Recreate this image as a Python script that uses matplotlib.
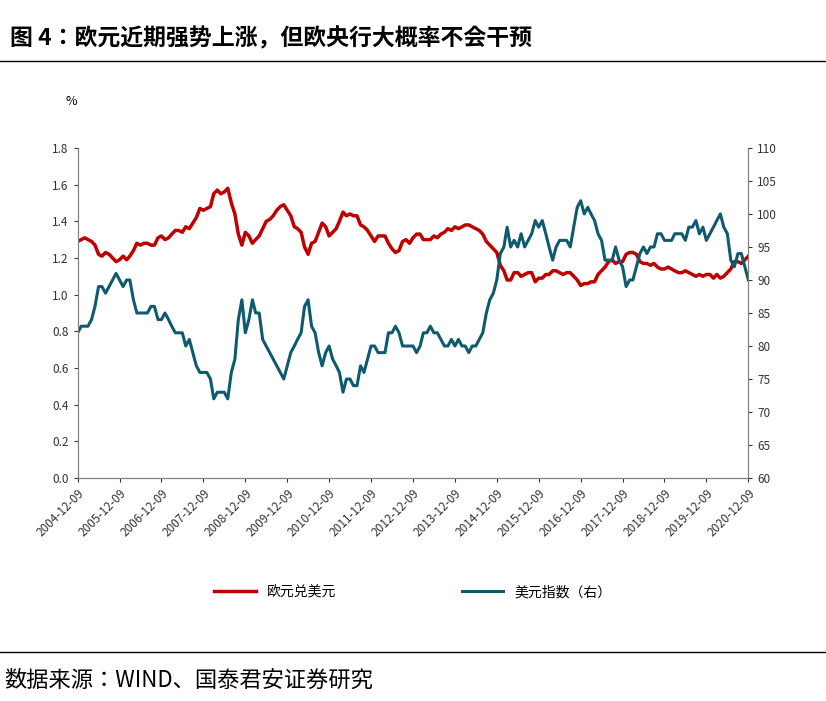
import matplotlib
matplotlib.use("Agg")
import matplotlib.pyplot as plt
from matplotlib import font_manager
import pandas as pd

eur = [1.29,
1.30,1.31,1.30,1.29,1.27,1.22,1.21,1.23,1.22,1.20,1.18,1.19,
1.21,1.19,1.21,1.24,1.28,1.27,1.28,1.28,1.27,1.27,1.31,1.32,
1.30,1.31,1.33,1.35,1.35,1.34,1.37,1.36,1.39,1.42,1.47,1.46,
1.47,1.48,1.55,1.57,1.55,1.56,1.58,1.50,1.44,1.33,1.27,1.34,
1.32,1.28,1.30,1.32,1.36,1.40,1.41,1.43,1.46,1.48,1.49,1.46,
1.43,1.37,1.36,1.34,1.26,1.22,1.28,1.29,1.34,1.39,1.37,1.32,
1.34,1.36,1.40,1.45,1.43,1.44,1.43,1.43,1.38,1.37,1.35,1.32,
1.29,1.32,1.32,1.32,1.28,1.25,1.23,1.24,1.29,1.30,1.28,1.31,
1.33,1.33,1.30,1.30,1.30,1.32,1.31,1.33,1.34,1.36,1.35,1.37,
1.36,1.37,1.38,1.38,1.37,1.36,1.35,1.33,1.29,1.27,1.25,1.23,
1.16,1.13,1.08,1.08,1.12,1.12,1.10,1.11,1.12,1.12,1.07,1.09,
1.09,1.11,1.11,1.13,1.13,1.12,1.11,1.12,1.12,1.10,1.08,1.05,
1.06,1.06,1.07,1.07,1.11,1.13,1.15,1.18,1.19,1.17,1.18,1.18,
1.22,1.23,1.23,1.22,1.18,1.17,1.17,1.16,1.17,1.15,1.14,1.14,
1.15,1.14,1.13,1.12,1.12,1.13,1.12,1.11,1.10,1.11,1.10,1.11,
1.11,1.09,1.11,1.09,1.10,1.12,1.14,1.18,1.18,1.17,1.19,1.21]

dxy = [82,
83,83,83,84,86,89,89,88,89,90,91,90,
89,90,90,87,85,85,85,85,86,86,84,84,
85,84,83,82,82,82,80,81,79,77,76,76,
76,75,72,73,73,73,72,76,78,84,87,82,
84,87,85,85,81,80,79,78,77,76,75,77,
79,80,81,82,86,87,83,82,79,77,79,80,
78,77,76,73,75,75,74,74,77,76,78,80,
80,79,79,79,82,82,83,82,80,80,80,80,
79,80,82,82,83,82,82,81,80,80,81,80,
81,80,80,79,80,80,81,82,85,87,88,90,
94,95,98,95,96,95,97,95,96,97,99,98,
99,97,95,93,95,96,96,96,95,98,101,102,
100,101,100,99,97,96,93,93,93,95,93,92,
89,90,90,92,94,95,94,95,95,97,97,96,
96,96,97,97,97,96,98,98,99,97,98,96,
97,98,99,100,98,97,93,92,94,94,92,90]

dates = pd.date_range("2004-12-09", periods=len(eur), freq=pd.DateOffset(months=1))
tick_dates = pd.date_range("2004-12-09", periods=17, freq=pd.DateOffset(years=1))
tick_labels = [d.strftime("%Y-%m-%d") for d in tick_dates]

available = {f.name for f in font_manager.fontManager.ttflist}
cands = ["Noto Sans CJK SC", "Noto Sans CJK JP", "Noto Sans CJK TC", "Noto Sans CJK KR",
         "Noto Sans SC", "Noto Serif CJK SC", "WenQuanYi Zen Hei"]
cjk_name = next((c for c in cands if c in available), None)
if cjk_name is None:
    for f in font_manager.fontManager.ttflist:
        if "CJK" in f.name or "CJK" in f.fname:
            cjk_name = f.name
            break
cjk = [cjk_name, "DejaVu Sans"] if cjk_name else ["DejaVu Sans"]
plt.rcParams["font.family"] = cjk

red = "#C00000"
teal = "#0E5A6E"

fig = plt.figure(figsize=(8.26, 7.01), dpi=100)
fig.text(0.012, 0.945, "图 4：欧元近期强势上涨，但欧央行大概率不会干预",
         fontsize=16.5, fontweight="bold", va="center")
fig.add_artist(plt.Line2D([0, 1], [0.913, 0.913], color="black", lw=1))
fig.add_artist(plt.Line2D([0, 1], [0.07, 0.07], color="black", lw=1))
fig.text(0.005, 0.03, "数据来源：WIND、国泰君安证券研究", fontsize=16, va="center")

ax = fig.add_axes([0.094, 0.318, 0.812, 0.471])
ax2 = ax.twinx()
l1, = ax.plot(dates, eur, color=red, lw=2.5)
l2, = ax2.plot(dates, dxy, color=teal, lw=2.2)
ax.set_ylim(0, 1.8)
ax.set_yticks([i * 0.2 for i in range(10)])
ax.set_yticklabels([f"{i*0.2:.1f}" for i in range(10)])
ax2.set_ylim(60, 110)
ax2.set_yticks(range(60, 111, 5))
ax.set_xlim(dates[0], dates[-1])
ax.set_xticks(tick_dates)
ax.set_xticklabels(tick_labels, rotation=45, ha="right", rotation_mode="anchor")
for a in (ax, ax2):
    a.spines["top"].set_visible(False)
    a.tick_params(labelsize=8.5, colors="#333333", direction="out", length=3)
    for s in a.spines.values():
        s.set_color("#808080")
ax.text(-0.01, 1.13, "%", transform=ax.transAxes, fontsize=9, ha="center")
fig.legend([l1, l2], ["欧元兑美元", "美元指数（右）"], loc="center", bbox_to_anchor=(0.5, 0.155),
           ncol=2, frameon=False, prop={"size": 10}, columnspacing=9, handlelength=3)
fig.savefig("out.png", dpi=100)
